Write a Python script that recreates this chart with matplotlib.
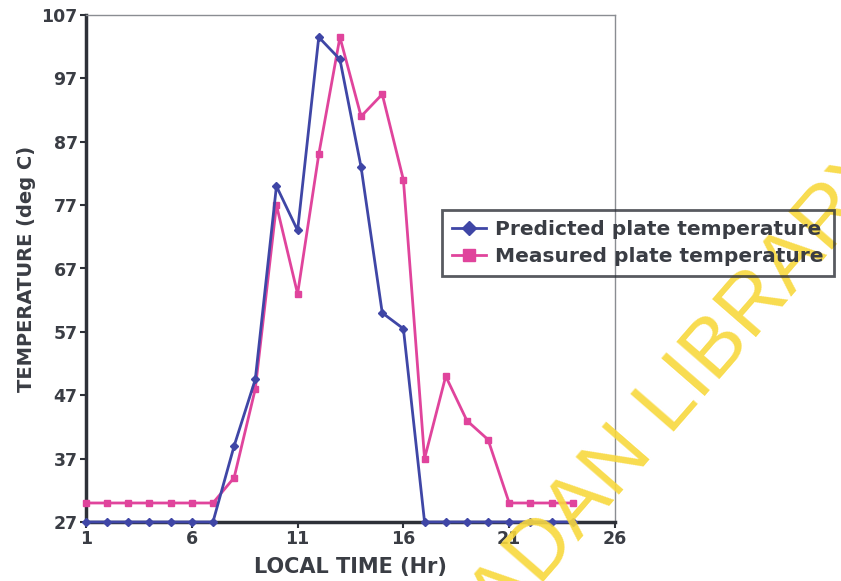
import numpy as np
import matplotlib
matplotlib.use('Agg')
import matplotlib.pyplot as plt

hours = list(range(1, 25))
predicted = [27, 27, 27, 27, 27, 27, 27, 39, 49.5, 80, 73, 103.5, 100, 83,
             60, 57.5, 27, 27, 27, 27, 27, 27, 27, 27]
measured = [30, 30, 30, 30, 30, 30, 30, 34, 48, 77, 63, 85, 103.5, 91, 94.5,
            81, 37, 50, 43, 40, 30, 30, 30, 30]

COLOR_PRED = '#3f46a6'
COLOR_MEAS = '#e0449c'
DARK = '#2e3138'
TXT = '#3a3d44'

plt.rcParams['font.family'] = ['DejaVu Sans']
plt.rcParams['font.weight'] = 'bold'

fig = plt.figure(figsize=(8.41, 5.81), dpi=100)
ax = fig.add_axes([86/841, 1 - 522/581, (615-86)/841, (522-15)/581])

ax.plot(hours, predicted, '-D', color=COLOR_PRED, lw=2, ms=4,
        label='Predicted plate temperature', clip_on=False, zorder=4)
ax.plot(hours, measured, '-s', color=COLOR_MEAS, lw=2, ms=5,
        label='Measured plate temperature', clip_on=False, zorder=3)

ax.set_xlim(1, 26); ax.set_ylim(27, 107)
ax.set_xticks(np.arange(1, 27, 5))
ax.set_yticks(np.arange(27, 108, 10))
ax.tick_params(axis='both', direction='out', length=4, width=1.5, colors=DARK,
               labelsize=12.5, pad=2)
for lab in ax.get_xticklabels() + ax.get_yticklabels():
    lab.set_fontweight('bold'); lab.set_color(TXT)

for s in ['left', 'bottom']:
    ax.spines[s].set_color(DARK); ax.spines[s].set_linewidth(2.5)
for s in ['top', 'right']:
    ax.spines[s].set_color('#8a8d92'); ax.spines[s].set_linewidth(1)

ax.set_xlabel('LOCAL TIME (Hr)', fontsize=15, fontweight='bold', color=TXT, labelpad=6)
ax.set_ylabel('TEMPERATURE (deg C)', fontsize=14, fontweight='bold', color=TXT, labelpad=4)

leg = fig.legend(loc='upper left', bbox_to_anchor=(442/841, 1 - 210/581),
                 prop={'size': 14.5, 'weight': 'bold'}, frameon=True, fancybox=False,
                 handlelength=1.7, handletextpad=0.45, borderpad=0.5, labelspacing=0.4,
                 borderaxespad=0, markerscale=1.8)
leg.get_frame().set_edgecolor(DARK)
leg.get_frame().set_linewidth(2)
leg.get_frame().set_facecolor('none')
for t in leg.get_texts():
    t.set_color(TXT)

# yellow watermark from the scanned page
fig.text(903/841, 1 - 168/581, 'UNIVERSITY OF IBADAN LIBRARY', rotation=49,
         rotation_mode='anchor', ha='right', va='baseline', fontsize=60,
         family='Liberation Sans', fontweight='normal', color='#f8d83c',
         alpha=0.9, zorder=0)

plt.savefig('out.png', dpi=100)
